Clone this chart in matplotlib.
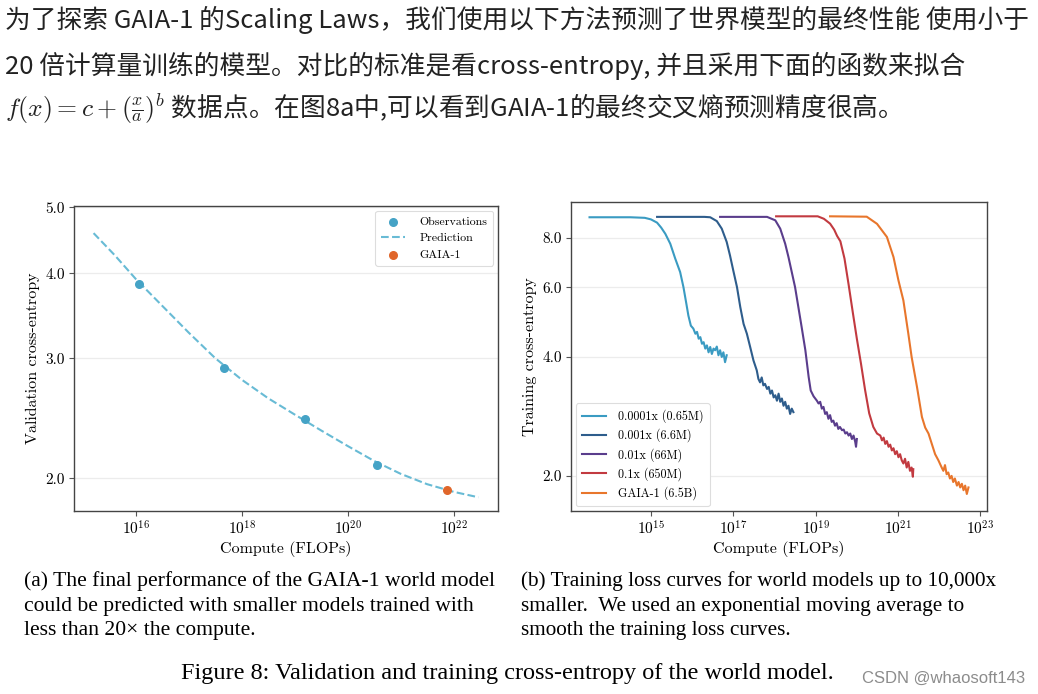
import numpy as np
import matplotlib
matplotlib.use("Agg")
import matplotlib.pyplot as plt
from matplotlib.ticker import NullLocator, FixedLocator, FixedFormatter

plt.rcParams['mathtext.fontset'] = 'cm'

W, H = 1038, 694

# ---- blog text above the figure ----
intro_lines = [
    "为了探索 GAIA-1 的Scaling Laws，我们使用以下方法预测了世界模型的最终性能 使用小于",
    "20 倍计算量训练的模型。对比的标准是看cross-entropy, 并且采用下面的函数来拟合",
    r"$f(x) = c + (\frac{x}{a})^b$ 数据点。在图8a中,可以看到GAIA-1的最终交叉熵预测精度很高。",
]

caption_a = ["(a) The final performance of the GAIA-1 world model",
             "could be predicted with smaller models trained with",
             "less than 20\u00d7 the compute."]
caption_b = ["(b) Training loss curves for world models up to 10,000x",
             "smaller.  We used an exponential moving average to",
             "smooth the training loss curves."]
fig_caption = "Figure 8: Validation and training cross-entropy of the world model."
watermark = "CSDN @whaosoft143"

# ---- (a) validation cross-entropy, compute given as log10(FLOPs) ----
obs_exp = [16.05, 17.67, 19.19, 20.55]
obs_ce = [3.86, 2.90, 2.44, 2.09]
gaia_exp = [21.88]
gaia_ce = [1.92]
pred_exp = [15.20, 15.60, 16.00, 16.50, 17.00, 17.50, 18.00, 18.50, 19.00,
            19.50, 20.00, 20.50, 21.00, 21.50, 22.00, 22.47]
pred_ce = [4.58, 4.25, 3.92, 3.58, 3.27, 3.00, 2.79, 2.62, 2.48,
           2.35, 2.23, 2.12, 2.03, 1.96, 1.91, 1.875]

# ---- (b) training curves ----
run_labels = ["0.0001x (0.65M)", "0.001x (6.6M)", "0.01x (66M)", "0.1x (650M)", "GAIA-1 (6.5B)"]
run_colors = ["#3a9bc2", "#2e5d8c", "#5a3d8c", "#c23a40", "#e8762c"]

c1_exp = [13.51, 14.50, 14.85, 15.00, 15.15, 15.25, 15.35, 15.47, 15.59, 15.71, 15.79, 15.86,
          15.91, 15.97, 16.03, 16.08, 16.12, 16.16, 16.20, 16.24, 16.28, 16.32, 16.36, 16.40,
          16.44, 16.48, 16.52, 16.56, 16.60, 16.64, 16.68, 16.72, 16.76, 16.80, 16.84]
c1_ce = [9.03, 9.03, 9.00, 8.92, 8.75, 8.50, 8.20, 7.74, 7.10, 6.56, 6.01, 5.46,
         5.09, 4.80, 4.72, 4.58, 4.63, 4.45, 4.49, 4.32, 4.36, 4.20, 4.28, 4.11,
         4.24, 4.07, 4.20, 4.16, 4.25, 4.04, 4.16, 4.00, 4.11, 3.88, 4.04]

c2_exp = [15.15, 16.30, 16.44, 16.60, 16.72, 16.84, 16.92, 17.00, 17.09, 17.17, 17.25, 17.33,
          17.41, 17.49, 17.57, 17.61, 17.65, 17.69, 17.73, 17.77, 17.82, 17.86, 17.90, 17.94,
          17.98, 18.02, 18.06, 18.10, 18.14, 18.18, 18.22, 18.26, 18.30, 18.34, 18.38, 18.42, 18.46]
c2_ce = [9.05, 9.05, 9.03, 8.83, 8.45, 7.82, 7.23, 6.62, 6.01, 5.35, 4.85, 4.58,
         4.24, 3.92, 3.70, 3.52, 3.45, 3.55, 3.39, 3.42, 3.32, 3.36, 3.23, 3.29,
         3.16, 3.20, 3.10, 3.23, 3.08, 3.14, 3.01, 3.08, 2.96, 3.01, 2.87, 2.96, 2.90]

c3_exp = [16.68, 17.82, 18.02, 18.14, 18.26, 18.34, 18.42, 18.50, 18.58, 18.66, 18.75, 18.83,
          18.88, 18.95, 19.03, 19.07, 19.11, 19.15, 19.19, 19.23, 19.27, 19.31, 19.35, 19.39,
          19.43, 19.47, 19.51, 19.55, 19.59, 19.64, 19.68, 19.72, 19.76, 19.80, 19.84, 19.88,
          19.92, 19.96, 19.98, 20.00]
c3_ce = [9.05, 9.05, 8.87, 8.45, 7.74, 7.16, 6.56, 6.01, 5.35, 4.76, 4.16, 3.56,
         3.29, 3.18, 3.10, 3.05, 3.08, 2.96, 2.99, 2.87, 2.90, 2.79, 2.85, 2.74,
         2.76, 2.68, 2.72, 2.63, 2.66, 2.61, 2.62, 2.56, 2.58, 2.53, 2.56, 2.48,
         2.53, 2.44, 2.37, 2.48]

c4_exp = [18.04, 19.05, 19.20, 19.35, 19.45, 19.52, 19.60, 19.70, 19.80, 19.90, 20.00, 20.10,
          20.20, 20.30, 20.40, 20.49, 20.57, 20.61, 20.65, 20.69, 20.73, 20.77, 20.81, 20.85,
          20.89, 20.93, 20.97, 21.01, 21.05, 21.09, 21.13, 21.17, 21.21, 21.25, 21.29, 21.33,
          21.36, 21.37]
c4_ce = [9.08, 9.08, 8.95, 8.70, 8.40, 8.10, 7.85, 7.10, 6.10, 5.20, 4.45, 3.85,
         3.30, 2.88, 2.66, 2.56, 2.53, 2.46, 2.50, 2.41, 2.45, 2.37, 2.40, 2.32,
         2.35, 2.27, 2.31, 2.23, 2.27, 2.19, 2.15, 2.21, 2.10, 2.17, 2.06, 2.10,
         1.99, 2.08]

c5_exp = [19.35, 20.24, 20.49, 20.73, 20.89, 21.01, 21.13, 21.25, 21.33, 21.46, 21.58, 21.66,
          21.74, 21.82, 21.90, 21.98, 22.06, 22.10, 22.14, 22.18, 22.22, 22.26, 22.30, 22.34,
          22.38, 22.43, 22.47, 22.51, 22.55, 22.59, 22.63, 22.67, 22.71]
c5_ce = [9.08, 9.06, 8.69, 8.05, 7.16, 6.25, 5.56, 4.58, 4.00, 3.36, 2.82, 2.65,
         2.56, 2.41, 2.27, 2.19, 2.10, 2.06, 2.13, 2.02, 2.04, 1.97, 2.00, 1.93,
         1.97, 1.89, 1.93, 1.87, 1.91, 1.84, 1.89, 1.80, 1.87]

runs_exp = [c1_exp, c2_exp, c3_exp, c4_exp, c5_exp]
runs_ce = [c1_ce, c2_ce, c3_ce, c4_ce, c5_ce]

CJK = ['Noto Sans CJK SC', 'DejaVu Sans']
CM = 'cmr10'


def px_rect(x0, y0, x1, y1):
    return [x0 / W, 1 - y1 / H, (x1 - x0) / W, (y1 - y0) / H]


def style_axes(ax):
    for s in ax.spines.values():
        s.set_color('#444444')
        s.set_linewidth(1.0)
    ax.tick_params(direction='out', length=3.5, width=0.8, color='#555555',
                   labelsize=11, pad=3)
    ax.grid(axis='y', color='#ececec', linewidth=0.9)
    ax.set_axisbelow(True)
    ax.xaxis.set_minor_locator(NullLocator())
    ax.yaxis.set_minor_locator(NullLocator())


fig = plt.figure(figsize=(W / 100, H / 100), dpi=100)

# top text
for ln, yy in zip(intro_lines, [20, 66, 108]):
    fig.text(5 / W, 1 - yy / H, ln, fontsize=18.5, family=CJK, color='#222222', va='center')

# ---- left plot ----
ax1 = fig.add_axes(px_rect(74, 206, 498, 511))
ax1.set_xscale('log')
ax1.set_yscale('log')
ax1.scatter(np.power(10.0, obs_exp), obs_ce, s=30, color='#45a3c6', zorder=3, label='Observations')
ax1.plot(np.power(10.0, pred_exp), pred_ce, ls='--', lw=1.5, color='#68bbd5', label='Prediction')
ax1.scatter(np.power(10.0, gaia_exp), gaia_ce, s=30, color='#e0662a', zorder=4, label='GAIA-1')
ax1.set_xlim(10 ** 14.83, 10 ** 22.84)
ax1.set_ylim(1.79, 5.02)
style_axes(ax1)
ax1.xaxis.set_major_locator(FixedLocator([1e16, 1e18, 1e20, 1e22]))
ax1.xaxis.set_major_formatter(FixedFormatter([r'$10^{16}$', r'$10^{18}$', r'$10^{20}$', r'$10^{22}$']))
ax1.yaxis.set_major_locator(FixedLocator([2, 3, 4, 5]))
ax1.yaxis.set_major_formatter(FixedFormatter(['2.0', '3.0', '4.0', '5.0']))
for t in ax1.get_yticklabels():
    t.set_fontfamily(CM)
ax1.set_xlabel('Compute (FLOPs)', fontsize=11.5, family=CM, labelpad=2)
ax1.set_ylabel('Validation cross-entropy', fontsize=11.5, family=CM, labelpad=4)
leg1 = ax1.legend(loc='upper right', prop={'family': CM, 'size': 8.6}, frameon=True,
                  fancybox=True, edgecolor='#dddddd', framealpha=1, borderpad=0.5,
                  handletextpad=1.2, borderaxespad=0.4)
leg1.get_frame().set_linewidth(0.8)

# ---- right plot ----
ax2 = fig.add_axes(px_rect(571, 202, 987, 511))
ax2.set_xscale('log')
ax2.set_yscale('log')
for ex, ce, lab, col in zip(runs_exp, runs_ce, run_labels, run_colors):
    ax2.plot(np.power(10.0, ex), ce, color=col, lw=1.5, label=lab)
ax2.set_xlim(10 ** 13.06, 10 ** 23.16)
ax2.set_ylim(1.63, 9.87)
style_axes(ax2)
ax2.xaxis.set_major_locator(FixedLocator([1e15, 1e17, 1e19, 1e21, 1e23]))
ax2.xaxis.set_major_formatter(FixedFormatter([r'$10^{15}$', r'$10^{17}$', r'$10^{19}$',
                                              r'$10^{21}$', r'$10^{23}$']))
ax2.yaxis.set_major_locator(FixedLocator([2, 4, 6, 8]))
ax2.yaxis.set_major_formatter(FixedFormatter(['2.0', '4.0', '6.0', '8.0']))
for t in ax2.get_yticklabels():
    t.set_fontfamily(CM)
ax2.set_xlabel('Compute (FLOPs)', fontsize=11.5, family=CM, labelpad=2)
ax2.set_ylabel('Training cross-entropy', fontsize=11.5, family=CM, labelpad=4)
leg2 = ax2.legend(loc='lower left', prop={'family': CM, 'size': 8.7}, frameon=True,
                  fancybox=True, edgecolor='#dddddd', framealpha=1, borderpad=0.5,
                  handletextpad=1.0, borderaxespad=0.4, labelspacing=0.45)
leg2.get_frame().set_linewidth(0.8)

# captions
for i, yy in enumerate([581, 606, 631]):
    fig.text(24 / W, 1 - yy / H, caption_a[i], fontsize=15.6, family='Liberation Serif', va='center')
    fig.text(521 / W, 1 - yy / H, caption_b[i], fontsize=15.3, family='Liberation Serif', va='center')
fig.text(181 / W, 1 - 673 / H, fig_caption, fontsize=17.5, family='Liberation Serif', va='center')
fig.text(862 / W, 1 - 678 / H, watermark, fontsize=12, family='Liberation Sans',
         color='#8c8c8c', va='center')

fig.savefig('out.png', dpi=100, facecolor='white')
